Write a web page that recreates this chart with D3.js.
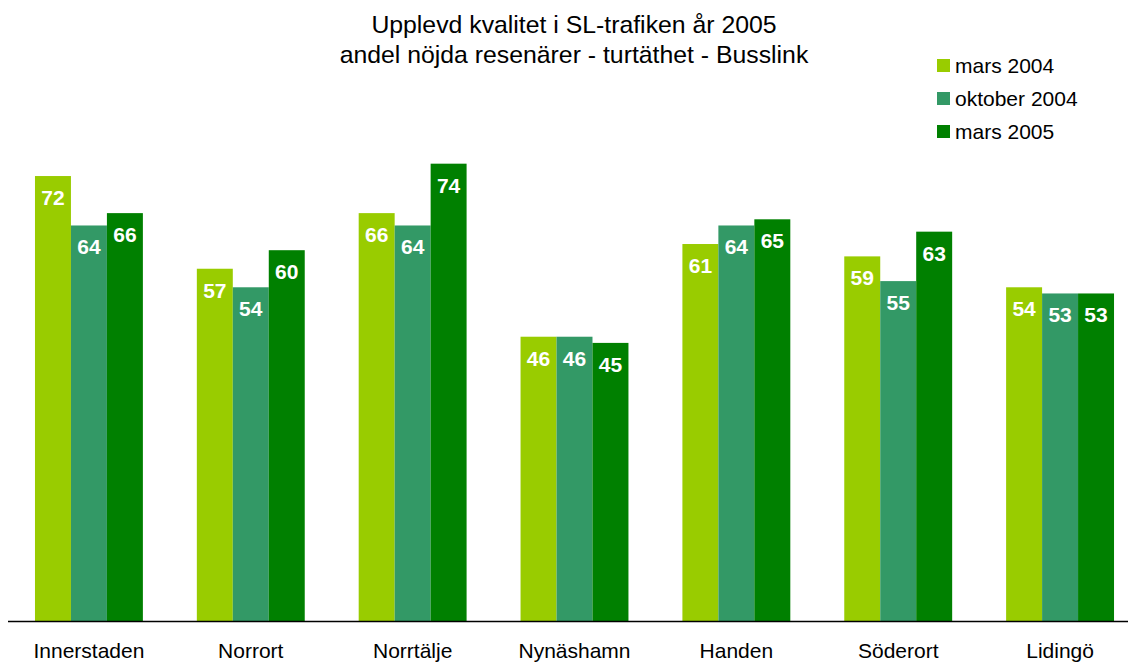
<!DOCTYPE html>
<html>
<head>
<meta charset="utf-8">
<script src="https://cdn.jsdelivr.net/npm/d3@7"></script>
<style>
  html, body { margin: 0; padding: 0; background: #fff; }
  svg { display: block; font-family: "Liberation Sans", Arial, sans-serif; }
</style>
</head>
<body>
<svg id="chart" width="1128" height="662"></svg>
<script>
// Areas along the x axis
const categories = ["Innerstaden", "Norrort", "Norrtälje", "Nynäshamn", "Handen", "Söderort", "Lidingö"];
// Survey rounds
const seriesNames = ["mars 2004", "oktober 2004", "mars 2005"];
const seriesColors = ["#99cc00", "#339966", "#008000"];
// Share of satisfied passengers (%) per survey round
const mars2004 = [72, 57, 66, 46, 61, 59, 54];
const oktober2004 = [64, 54, 64, 46, 64, 55, 53];
const mars2005 = [66, 60, 74, 45, 65, 63, 53];
const titleLines = ["Upplevd kvalitet i SL-trafiken år 2005", "andel nöjda resenärer - turtäthet - Busslink"];

const seriesValues = [mars2004, oktober2004, mars2005];
const rows = categories.map((c, i) => ({
  category: c,
  values: seriesValues.map((s, k) => ({ key: seriesNames[k], value: s[i], color: seriesColors[k] }))
}));

const svg = d3.select("#chart");
const baseY = 621;

const x0 = d3.scaleBand().domain(categories).range([8, 1141]).paddingInner(1/3).paddingOuter(1/6);
const x1 = d3.scaleBand().domain(seriesNames).range([0, x0.bandwidth()]);
const y = d3.scaleLinear().domain([0, 100]).range([baseY, 3]);

// Bars
const groups = svg.append("g").selectAll("g").data(rows).join("g")
  .attr("transform", d => `translate(${x0(d.category)},0)`);

groups.selectAll("rect").data(d => d.values).join("rect")
  .attr("x", d => x1(d.key))
  .attr("y", d => y(d.value))
  .attr("width", x1.bandwidth())
  .attr("height", d => y(0) - y(d.value))
  .attr("fill", d => d.color);

// Value labels inside the bars
groups.selectAll("text").data(d => d.values).join("text")
  .attr("x", d => x1(d.key) + x1.bandwidth() / 2)
  .attr("y", d => y(d.value) + 29)
  .attr("text-anchor", "middle")
  .attr("fill", "#fff")
  .attr("font-weight", "bold")
  .attr("font-size", 21)
  .text(d => d.value);

// Category axis
const xAxis = svg.append("g").attr("transform", `translate(0,${baseY})`)
  .call(d3.axisBottom(x0).tickSize(0).tickPadding(22));
xAxis.select(".domain").attr("d", "M8,0.5H1128").attr("stroke", "#000").attr("stroke-width", 1.5);
xAxis.selectAll("text").attr("font-size", 21).attr("fill", "#000")
  .attr("font-family", "Liberation Sans, Arial, sans-serif");

// Title
svg.append("text").attr("x", 574).attr("y", 33).attr("text-anchor", "middle")
  .attr("font-size", 24.8).attr("fill", "#000")
  .selectAll("tspan").data(titleLines).join("tspan")
  .attr("x", 574).attr("dy", (d, i) => i === 0 ? 0 : 30).text(d => d);

// Legend
const legend = svg.append("g").selectAll("g").data(seriesNames).join("g")
  .attr("transform", (d, i) => `translate(937,${59 + i * 33})`);
legend.append("rect").attr("width", 13).attr("height", 13)
  .attr("fill", (d, i) => seriesColors[i]);
legend.append("text").attr("x", 18).attr("y", 13.5)
  .attr("font-size", 21).attr("fill", "#000").text(d => d);
</script>
</body>
</html>
